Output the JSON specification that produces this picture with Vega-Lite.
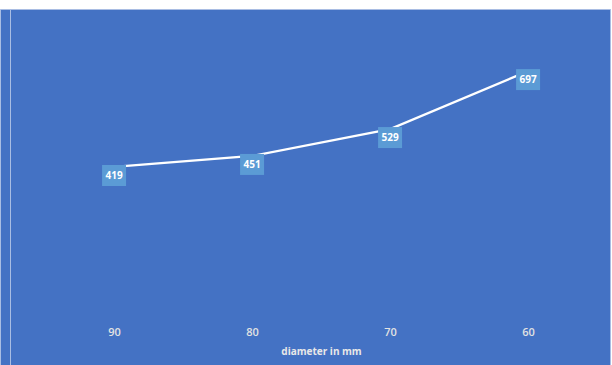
{
  "$schema": "https://vega.github.io/schema/vega-lite/v6.json",
  "width": 610,
  "height": 356,
  "autosize": {"type": "none"},
  "padding": {"top": 9, "left": 0, "right": 2, "bottom": 0},
  "background": "white",
  "config": {
    "view": {"fill": "#4472C4", "stroke": "#A9BDE3", "strokeWidth": 1},
    "font": "Open Sans"
  },
  "data": {
    "values": [
      {"diameter": "90", "value": 419},
      {"diameter": "80", "value": 451},
      {"diameter": "70", "value": 529},
      {"diameter": "60", "value": 697}
    ]
  },
  "encoding": {
    "x": {
      "field": "diameter",
      "type": "ordinal",
      "sort": ["90", "80", "70", "60"],
      "scale": {"type": "point", "padding": 0.71, "align": 0.582},
      "axis": {
        "title": "diameter in mm",
        "orient": "bottom",
        "offset": -43,
        "domain": false,
        "ticks": false,
        "grid": false,
        "labelAngle": 0,
        "labelFont": "Open Sans",
        "labelFontSize": 11,
        "labelFontWeight": 600,
        "labelColor": "#E2E2E2",
        "labelPadding": 4,
        "titleFont": "Open Sans",
        "titleFontSize": 10,
        "titleFontWeight": "bold",
        "titleColor": "#E8E8E8",
        "titlePadding": 9,
        "titleX": 321
      }
    },
    "y": {
      "field": "value",
      "type": "quantitative",
      "scale": {"domain": [-155, 877], "nice": false, "zero": false},
      "axis": {
        "title": null,
        "offset": -10,
        "labels": false,
        "ticks": false,
        "grid": false,
        "domain": true,
        "domainColor": "#A9BDE3",
        "domainWidth": 1
      }
    }
  },
  "layer": [
    {
      "mark": {"type": "line", "color": "white", "strokeWidth": 2.25, "strokeCap": "butt"}
    },
    {
      "mark": {
        "type": "point",
        "shape": "M-1,-1H1V0.75H-1Z",
        "size": 576,
        "filled": true,
        "fill": "#5B9BD5",
        "opacity": 1,
        "strokeWidth": 0,
        "yOffset": 10
      }
    },
    {
      "mark": {
        "type": "text",
        "color": "white",
        "font": "Open Sans",
        "fontSize": 10,
        "fontWeight": "bold",
        "baseline": "middle",
        "align": "center",
        "yOffset": 9
      },
      "encoding": {"text": {"field": "value", "type": "quantitative"}}
    }
  ]
}
